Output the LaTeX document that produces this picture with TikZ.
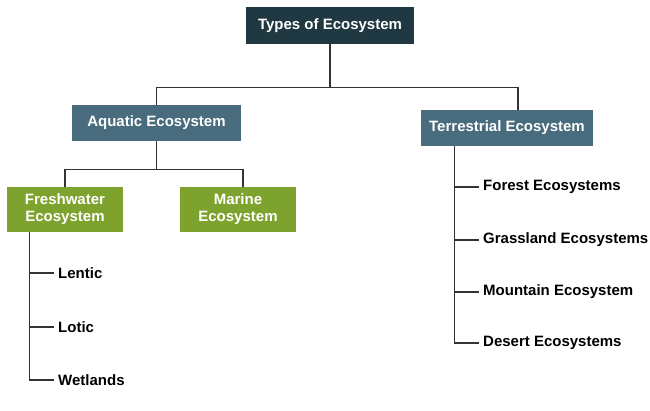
\documentclass[tikz,border=0pt]{standalone}
\usepackage{fontspec}
\setmainfont{Liberation Sans}
\usetikzlibrary{positioning}
\definecolor{rootcol}{HTML}{1F3841}
\definecolor{kindcol}{HTML}{486C7D}
\definecolor{watercol}{HTML}{7DA32E}
\tikzset{
    rootbox/.style={rectangle, minimum width=168pt, minimum height=37pt, align=center, fill=rootcol, text=white, font=\bfseries\fontsize{15}{17}\selectfont},
    kindbox/.style={rectangle, minimum height=36pt, align=center, fill=kindcol, text=white, font=\bfseries\fontsize{15}{17}\selectfont},
    waterbox/.style={rectangle, minimum width=116pt, minimum height=45pt, align=center, fill=watercol, text=white, font=\bfseries\fontsize{15}{17}\selectfont},
    leaf/.style={anchor=west, inner xsep=4pt, inner ysep=2pt, font=\bfseries\fontsize{15}{17}\selectfont},
    conn/.style={draw=black!80, line width=1.1pt}
}
\begin{document}
\begin{tikzpicture}[x=1pt, y=-1pt]
    \useasboundingbox (0,0) rectangle (650,411);

    \node (root) [rootbox] at (330,25.5) {Types of Ecosystem};

    \node (aqua) [kindbox, minimum width=169pt] at (156.5,123) {Aquatic Ecosystem};
    \node (terr) [kindbox, minimum width=172pt] at (507,128) {Terrestrial Ecosystem};

    \node (fresh) [waterbox] at (65,209.5) {Freshwater\\Ecosystem};
    \node (marine) [waterbox] at (238,209.5) {Marine\\Ecosystem};

    \node (lentic) [leaf] at (54,273) {Lentic};
    \node (lotic) [leaf] at (54,327) {Lotic};
    \node (wet) [leaf] at (54,380) {Wetlands};

    \node (forest) [leaf] at (479,187) {Forest Ecosystems};
    \node (grass) [leaf] at (479,240) {Grassland Ecosystems};
    \node (mount) [leaf] at (479,292) {Mountain Ecosystem};
    \node (desert) [leaf] at (479,343) {Desert Ecosystems};

    \coordinate (fstem) at ([xshift=23pt]fresh.south west);
    \coordinate (tstem) at ([xshift=34pt]terr.south west);

    \draw [conn] (root.south) -- ++(0,43) -| (aqua.north);
    \draw [conn] (root.south) -- ++(0,43) -| ([xshift=11pt]terr.north);
    \draw [conn] (aqua.south) -- ++(0,28) -| (fresh.north);
    \draw [conn] (aqua.south) -- ++(0,28) -| ([xshift=5pt]marine.north);

    \draw [conn] (fstem) |- (wet.west);
    \draw [conn] (lentic.west) -- (lentic.west -| fstem);
    \draw [conn] (lotic.west) -- (lotic.west -| fstem);

    \draw [conn] (tstem) |- (desert.west);
    \draw [conn] (forest.west) -- (forest.west -| tstem);
    \draw [conn] (grass.west) -- (grass.west -| tstem);
    \draw [conn] (mount.west) -- (mount.west -| tstem);
\end{tikzpicture}
\end{document}
